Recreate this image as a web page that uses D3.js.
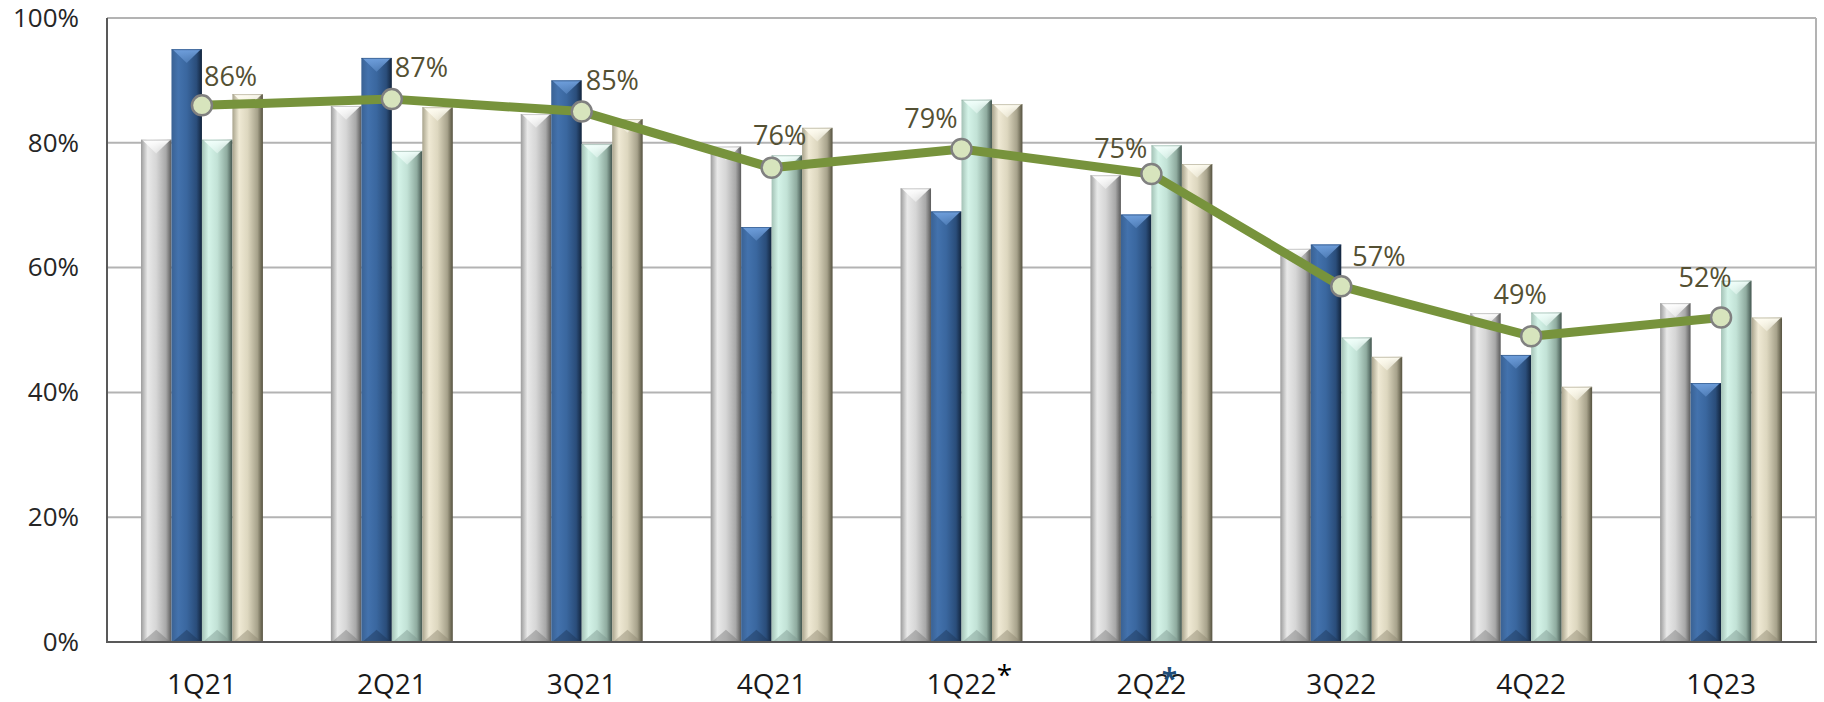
<!DOCTYPE html>
<html>
<head>
<meta charset="utf-8">
<script src="https://cdn.jsdelivr.net/npm/d3@7/dist/d3.min.js"></script>
<style>
  html, body { margin: 0; padding: 0; background: #ffffff; }
  svg { display: block; }
  text { font-family: "Open Sans", "Noto Sans", sans-serif; }
</style>
</head>
<body>
<svg id="chart" width="1824" height="702"></svg>
<script>
// ---------- DATA ----------
const categories = ["1Q21", "2Q21", "3Q21", "4Q21", "1Q22", "2Q22", "3Q22", "4Q22", "1Q23"];
const seriesKeys = ["silver", "navy", "mint", "sand"];
const silverValues = [0.805, 0.859, 0.846, 0.794, 0.727, 0.748, 0.630, 0.527, 0.543];
const navyValues   = [0.950, 0.936, 0.900, 0.665, 0.690, 0.685, 0.637, 0.460, 0.415];
const mintValues   = [0.805, 0.787, 0.798, 0.780, 0.869, 0.796, 0.488, 0.528, 0.579];
const sandValues   = [0.878, 0.857, 0.838, 0.824, 0.862, 0.766, 0.457, 0.409, 0.520];
const lineValues   = [0.86, 0.87, 0.85, 0.76, 0.79, 0.75, 0.57, 0.49, 0.52];
const yTickValues  = [0, 0.2, 0.4, 0.6, 0.8, 1.0];
const starredCategories = ["1Q22", "2Q22"];

// ---------- LAYOUT / STYLE ----------
const plot = { left: 107, right: 1816, top: 18, bottom: 642 };
const seriesStyle = {
  silver: { stops: ["#9c9c9c", "#e9e9e9", "#d6d6d6", "#a8a8a8", "#5a5a5a"], cap: "#ffffff", foot: "#7a7a7a" },
  navy:   { stops: ["#3a6294", "#4372ad", "#3a679f", "#2a4d7a", "#12243c"], cap: "#6f9fdc", foot: "#1d3656" },
  mint:   { stops: ["#a4c2b6", "#d4f3e8", "#c2e2d6", "#8fab9f", "#43564f"], cap: "#f2fffb", foot: "#7d978d" },
  sand:   { stops: ["#a9a48d", "#efe9d4", "#ddd7bf", "#a7a28b", "#55523f"], cap: "#fffdf2", foot: "#8d8872" }
};
// label nudges relative to the marker (dx of text anchor, dy of baseline), by category order
const labelNudge = [
  { anchor: "start",  dx: 2,   dy: -19 },
  { anchor: "start",  dx: 3,   dy: -22 },
  { anchor: "start",  dx: 4,   dy: -22 },
  { anchor: "middle", dx: 8,   dy: -23 },
  { anchor: "end",    dx: -4,  dy: -21 },
  { anchor: "end",    dx: -4,  dy: -16 },
  { anchor: "start",  dx: 11,  dy: -20 },
  { anchor: "middle", dx: -11, dy: -32 },
  { anchor: "middle", dx: -16, dy: -31 }
];

const valuesByKey = { silver: silverValues, navy: navyValues, mint: mintValues, sand: sandValues };

const svg = d3.select("#chart");

const x0 = d3.scaleBand()
  .domain(categories)
  .range([plot.left, plot.right])
  .paddingInner(0.358)
  .paddingOuter(0.179);

const x1 = d3.scaleBand()
  .domain(seriesKeys)
  .range([0, x0.bandwidth()])
  .padding(0);

const y = d3.scaleLinear().domain([0, 1]).range([plot.bottom, plot.top]);

// gradients
const defs = svg.append("defs");
seriesKeys.forEach(k => {
  const g = defs.append("linearGradient").attr("id", "grad-" + k)
    .attr("x1", "0%").attr("x2", "100%").attr("y1", "0%").attr("y2", "0%");
  const offs = [0, 0.22, 0.5, 0.82, 1];
  seriesStyle[k].stops.forEach((c, i) => g.append("stop").attr("offset", offs[i]).attr("stop-color", c));
  const cg = defs.append("linearGradient").attr("id", "cap-" + k)
    .attr("x1", "0%").attr("x2", "0%").attr("y1", "0%").attr("y2", "100%");
  cg.append("stop").attr("offset", 0).attr("stop-color", seriesStyle[k].cap).attr("stop-opacity", 1);
  cg.append("stop").attr("offset", 1).attr("stop-color", seriesStyle[k].cap).attr("stop-opacity", 0.4);
});

// gridlines
svg.append("g").selectAll("line")
  .data(yTickValues.filter(v => v > 0))
  .join("line")
  .attr("x1", plot.left).attr("x2", plot.right)
  .attr("y1", d => y(d)).attr("y2", d => y(d))
  .attr("stroke", "#b3b3b3").attr("stroke-width", 2);
// right border
svg.append("line")
  .attr("x1", plot.right).attr("x2", plot.right)
  .attr("y1", plot.top).attr("y2", plot.bottom)
  .attr("stroke", "#b3b3b3").attr("stroke-width", 2);

// bars
const barData = [];
categories.forEach((c, i) => {
  seriesKeys.forEach(k => barData.push({ cat: c, key: k, value: valuesByKey[k][i] }));
});

const bars = svg.append("g").selectAll("g.bar").data(barData).join("g").attr("class", "bar");
bars.append("rect")
  .attr("x", d => x0(d.cat) + x1(d.key))
  .attr("y", d => y(d.value))
  .attr("width", x1.bandwidth())
  .attr("height", d => y(0) - y(d.value))
  .attr("fill", d => "url(#grad-" + d.key + ")");
// top bevel
bars.append("path")
  .attr("d", d => {
    const xa = x0(d.cat) + x1(d.key), w = x1.bandwidth(), yt = y(d.value);
    return `M${xa + 1},${yt} L${xa + w - 1},${yt} L${xa + w / 2},${yt + w * 0.45} Z`;
  })
  .attr("fill", d => "url(#cap-" + d.key + ")");
bars.append("line")
  .attr("x1", d => x0(d.cat) + x1(d.key)).attr("x2", d => x0(d.cat) + x1(d.key) + x1.bandwidth())
  .attr("y1", d => y(d.value) + 0.5).attr("y2", d => y(d.value) + 0.5)
  .attr("stroke", d => seriesStyle[d.key].stops[3]).attr("stroke-width", 1).attr("opacity", 0.6);
// bottom bevel
bars.append("path")
  .attr("d", d => {
    const xa = x0(d.cat) + x1(d.key), w = x1.bandwidth(), yb = y(0);
    return `M${xa + 1},${yb} L${xa + w - 1},${yb} L${xa + w / 2},${yb - w * 0.4} Z`;
  })
  .attr("fill", d => seriesStyle[d.key].foot).attr("opacity", 0.45);

// axes lines
svg.append("line")
  .attr("x1", plot.left).attr("x2", plot.left)
  .attr("y1", plot.top).attr("y2", plot.bottom + 1)
  .attr("stroke", "#595959").attr("stroke-width", 2);
svg.append("line")
  .attr("x1", plot.left).attr("x2", plot.right + 1)
  .attr("y1", plot.bottom).attr("y2", plot.bottom)
  .attr("stroke", "#595959").attr("stroke-width", 2);

// y tick labels
const yAxis = d3.axisLeft(y).tickValues(yTickValues).tickFormat(d3.format(".0%")).tickSize(0).tickPadding(28);
const yAxG = svg.append("g").attr("transform", `translate(${plot.left},0)`).call(yAxis);
yAxG.select(".domain").remove();
yAxG.selectAll("text")
  .attr("font-family", "'Open Sans', sans-serif")
  .attr("font-size", 26).attr("fill", "#262626");

// x tick labels
const xAxis = d3.axisBottom(x0).tickSize(0).tickPadding(32);
const xAxG = svg.append("g").attr("transform", `translate(0,${plot.bottom})`).call(xAxis);
xAxG.select(".domain").remove();
xAxG.selectAll("text")
  .attr("font-family", "'Open Sans', sans-serif")
  .attr("font-size", 28).attr("fill", "#1a1a1a");

// stars
const cx = c => x0(c) + x0.bandwidth() / 2;
svg.append("g").selectAll("text")
  .data(starredCategories)
  .join("text")
  .attr("x", (c, i) => cx(c) + (i === 0 ? 43 : 18))
  .attr("y", (c, i) => i === 0 ? 685 : 689)
  .attr("text-anchor", "middle")
  .attr("font-size", 28)
  .attr("font-weight", (c, i) => i === 0 ? "normal" : "bold")
  .attr("fill", (c, i) => i === 0 ? "#000000" : "#1f4e79")
  .text("*");

// line
const lineData = categories.map((c, i) => ({ cat: c, value: lineValues[i], i }));
const lineGen = d3.line().x(d => cx(d.cat)).y(d => y(d.value));
svg.append("path")
  .datum(lineData)
  .attr("d", lineGen)
  .attr("fill", "none")
  .attr("stroke", "#77933c")
  .attr("stroke-width", 9)
  .attr("stroke-linejoin", "round")
  .attr("stroke-linecap", "round");

svg.append("g").selectAll("circle")
  .data(lineData)
  .join("circle")
  .attr("cx", d => cx(d.cat))
  .attr("cy", d => y(d.value))
  .attr("r", 10)
  .attr("fill", "#d7e4bd")
  .attr("stroke", "#808080")
  .attr("stroke-width", 2.5);

// data labels
svg.append("g").selectAll("text")
  .data(lineData)
  .join("text")
  .attr("x", d => cx(d.cat) + labelNudge[d.i].dx)
  .attr("y", d => y(d.value) + labelNudge[d.i].dy)
  .attr("text-anchor", d => labelNudge[d.i].anchor)
  .attr("font-size", 27)
  .attr("fill", "#545033")
  .text(d => d3.format(".0%")(d.value));
</script>
</body>
</html>
